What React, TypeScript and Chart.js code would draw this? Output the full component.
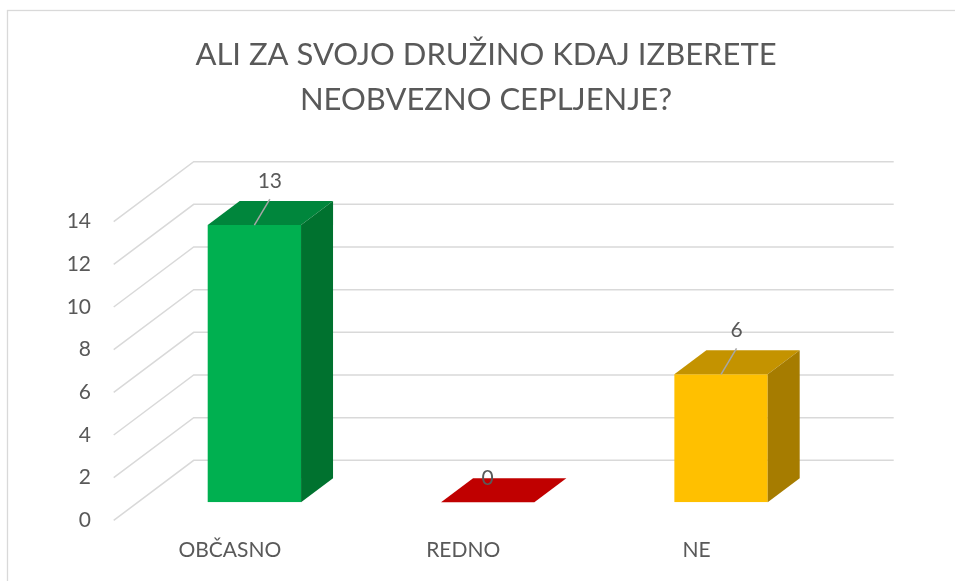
import React, { useEffect, useRef } from "react";
import { Chart, registerables } from "chart.js";

Chart.register(...registerables);

// ---- data ----
const categories = ["OBČASNO", "REDNO", "NE"];
const values = [13, 0, 6];
const yMin = 0;
const yMax = 14;
const yStep = 2;
const titleLines = ["ALI ZA SVOJO DRUŽINO KDAJ IZBERETE", "NEOBVEZNO CEPLJENJE?"];
const frontColors = ["#00B050", "#C00000", "#FFC000"];
const topColors = ["#00863C", "#C00000", "#C49300"];
const sideColors = ["#00722F", "#900000", "#A67C00"];

// ---- styling / geometry ----
const FONT = "Lato";
const TEXT = "#595959";
const GRID = "#d9d9d9";
const WALL_DX = 56; // front plane -> back wall
const WALL_DY = -42;
const SIDE_DX = -80; // back wall -> front edge of floor
const SIDE_DY = 60;
const BAR_DX = 32; // bar depth
const BAR_DY = -24;
const LABEL_SIZE = 21;
const PAD_LEFT = 17;
const PLOT_LEFT = 137.7;
const RIGHT_SPACE = 117.3;

const threeD = {
  id: "threeD",
  beforeDraw(chart: any) {
    const ctx = chart.ctx;
    ctx.save();
    ctx.strokeStyle = GRID;
    ctx.lineWidth = 1.3;
    ctx.strokeRect(7.5, 10.5, chart.width + 40, chart.height + 40);
    ctx.restore();
  },
  beforeDatasetsDraw(chart: any) {
    const { ctx, chartArea, scales } = chart;
    const y = scales.y;
    ctx.save();
    ctx.strokeStyle = GRID;
    ctx.lineWidth = 1.5;
    y.ticks.forEach((t: any) => {
      const yb = y.getPixelForValue(t.value) + WALL_DY;
      const xl = chartArea.left + WALL_DX;
      const xr = chartArea.right + WALL_DX;
      ctx.beginPath();
      ctx.moveTo(xl + SIDE_DX, yb + SIDE_DY);
      ctx.lineTo(xl, yb);
      ctx.lineTo(xr, yb);
      ctx.stroke();
    });
    ctx.restore();
  },
  afterDatasetsDraw(chart: any) {
    const ctx = chart.ctx;
    const meta = chart.getDatasetMeta(0);
    ctx.save();
    meta.data.forEach((bar: any, i: number) => {
      const { x, y, base, width } = bar.getProps(["x", "y", "base", "width"], true);
      const l = x - width / 2;
      const r = x + width / 2;
      // top face
      ctx.fillStyle = topColors[i];
      ctx.beginPath();
      ctx.moveTo(l, y);
      ctx.lineTo(l + BAR_DX, y + BAR_DY);
      ctx.lineTo(r + BAR_DX, y + BAR_DY);
      ctx.lineTo(r, y);
      ctx.closePath();
      ctx.fill();
      // side face
      if (base - y > 0.5) {
        ctx.fillStyle = sideColors[i];
        ctx.beginPath();
        ctx.moveTo(r, y);
        ctx.lineTo(r + BAR_DX, y + BAR_DY);
        ctx.lineTo(r + BAR_DX, base + BAR_DY);
        ctx.lineTo(r, base);
        ctx.closePath();
        ctx.fill();
      }
      // data label
      const v = values[i];
      const backTop = y + BAR_DY;
      ctx.font = `${LABEL_SIZE}px ${FONT}`;
      ctx.fillStyle = TEXT;
      ctx.textAlign = "center";
      ctx.textBaseline = "middle";
      if (base - y > 0.5) {
        ctx.strokeStyle = "#a6a6a6";
        ctx.lineWidth = 1.5;
        ctx.beginPath();
        ctx.moveTo(x, y);
        ctx.lineTo(x + 15.5, backTop - 2);
        ctx.stroke();
        ctx.fillText(String(v), x + 15.5, backTop - 20);
      } else {
        ctx.fillText(String(v), x, backTop);
      }
    });
    ctx.restore();
  },
};

export default function App() {
  const ref = useRef<HTMLCanvasElement | null>(null);
  useEffect(() => {
    if (!ref.current) return;
    const chart = new Chart(ref.current, {
      type: "bar",
      data: {
        labels: categories,
        datasets: [
          {
            data: values,
            backgroundColor: frontColors,
            borderWidth: 0,
            barPercentage: 0.4,
            categoryPercentage: 1,
          },
        ],
      },
      options: {
        animation: false,
        responsive: false,
        events: [],
        layout: { padding: { left: PAD_LEFT, right: 0, top: 0, bottom: 0 } },
        plugins: {
          legend: { display: false },
          tooltip: { enabled: false },
          title: {
            display: true,
            text: titleLines,
            color: TEXT,
            font: { family: FONT, size: 31, weight: "normal", lineHeight: 45.5 / 31 },
            padding: { top: 32, bottom: 80.7 },
          },
        },
        scales: {
          x: {
            grid: { display: false, drawTicks: false },
            border: { display: false },
            ticks: {
              color: TEXT,
              font: { family: FONT, size: LABEL_SIZE },
              padding: 35,
              labelOffset: -24.5,
              maxRotation: 0,
            },
            afterFit: (s: any) => {
              s.height = 78.7;
            },
          },
          y: {
            min: yMin,
            max: yMax,
            grid: { display: false, drawTicks: false },
            border: { display: false },
            ticks: {
              stepSize: yStep,
              color: TEXT,
              font: { family: FONT, size: LABEL_SIZE },
              padding: 46.7,
              labelOffset: 18,
            },
            afterFit: (s: any) => {
              s.width = PLOT_LEFT - PAD_LEFT;
            },
          },
          yRight: {
            position: "right",
            min: yMin,
            max: yMax,
            grid: { display: false, drawTicks: false },
            border: { display: false },
            ticks: { display: false },
            afterFit: (s: any) => {
              s.width = RIGHT_SPACE;
            },
          },
        },
      },
      plugins: [threeD],
    });
    return () => chart.destroy();
  }, []);
  return (
    <div style={{ position: "fixed", left: 0, top: 0, width: 955, height: 581, background: "#fff" }}>
      <canvas ref={ref} width={955} height={581} />
    </div>
  );
}
